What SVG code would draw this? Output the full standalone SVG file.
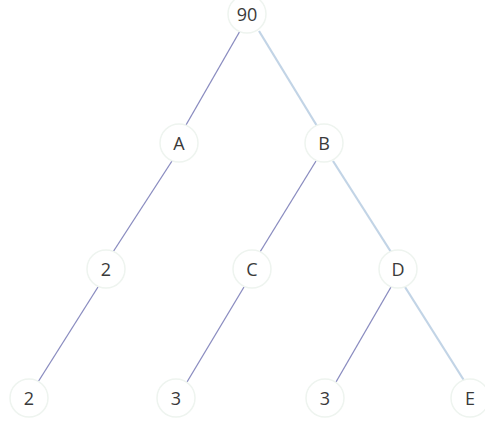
<svg xmlns="http://www.w3.org/2000/svg" width="485" height="424" viewBox="0 0 485 424">
<style>
.n circle{fill:#fff;stroke:#eef4ef;stroke-width:1.5}
.n text{font-family:"Open Sans",sans-serif;font-size:18px;fill:#3a3a3a;text-anchor:middle;dominant-baseline:central}
.l{stroke:#8a8cc0;stroke-width:1.3;fill:none}
.r{stroke:#c2d4e6;stroke-width:2.2;fill:none}
</style>
<rect width="485" height="424" fill="#fff"/>
<g id="edges">
<line class="l" x1="240" y1="31" x2="186" y2="125"/>
<line class="r" x1="259" y1="31" x2="317" y2="126"/>
<line class="l" x1="172" y1="161" x2="113" y2="252"/>
<line class="l" x1="316" y1="161" x2="260" y2="252"/>
<line class="r" x1="333" y1="161" x2="391" y2="252"/>
<line class="l" x1="98" y1="287" x2="38" y2="382"/>
<line class="l" x1="244" y1="287" x2="187" y2="382"/>
<line class="l" x1="391" y1="287" x2="336" y2="382"/>
<line class="r" x1="405" y1="287" x2="465" y2="382"/>
</g>
<g id="n90" class="n"><circle cx="247" cy="14" r="19"/><text x="247" y="14">90</text></g>
<g id="nA" class="n"><circle cx="179" cy="143" r="19"/><text x="179" y="143">A</text></g>
<g id="nB" class="n"><circle cx="324" cy="143" r="19"/><text x="324" y="143">B</text></g>
<g id="n2a" class="n"><circle cx="106" cy="269" r="19"/><text x="106" y="269">2</text></g>
<g id="nC" class="n"><circle cx="252" cy="269" r="19"/><text x="252" y="269">C</text></g>
<g id="nD" class="n"><circle cx="398" cy="269" r="19"/><text x="398" y="269">D</text></g>
<g id="n2b" class="n"><circle cx="29" cy="398" r="19"/><text x="29" y="398">2</text></g>
<g id="n3a" class="n"><circle cx="176" cy="398" r="19"/><text x="176" y="398">3</text></g>
<g id="n3b" class="n"><circle cx="325" cy="398" r="19"/><text x="325" y="398">3</text></g>
<g id="nE" class="n"><circle cx="470" cy="398" r="19"/><text x="470" y="398">E</text></g>
</svg>
